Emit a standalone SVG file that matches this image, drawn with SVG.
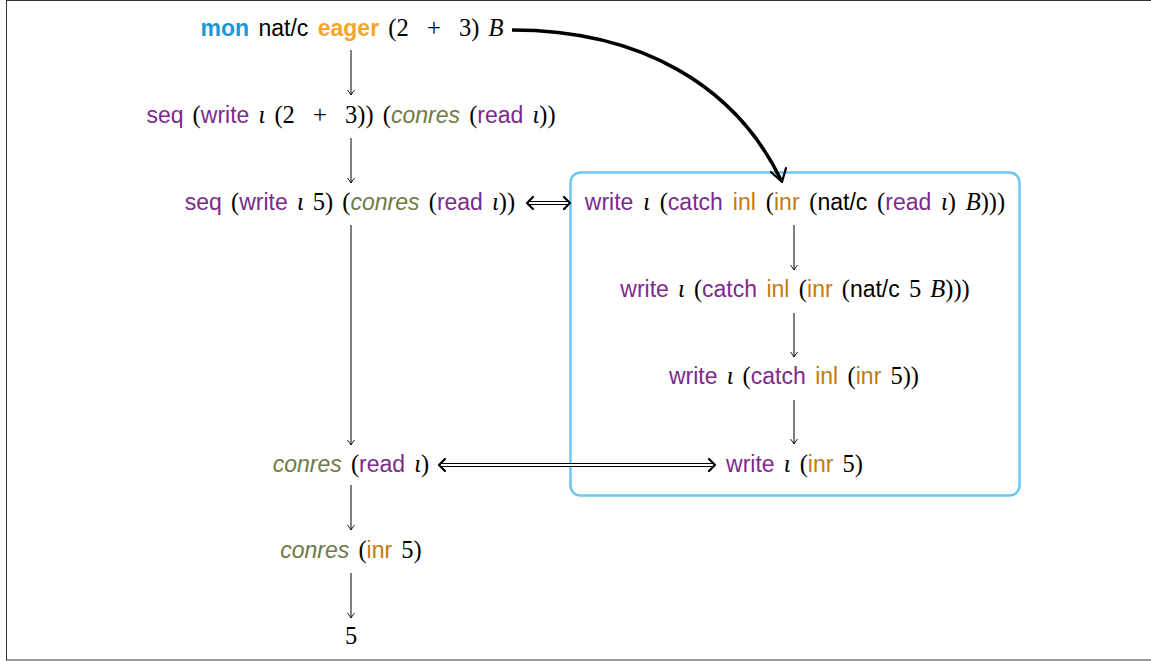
<svg xmlns="http://www.w3.org/2000/svg" width="1151" height="661" viewBox="0 0 1151 661">
  <style>
    text { font-size: 23px; white-space: pre; fill: #000; text-anchor: middle; word-spacing: 3px; }
    .sf { font-family: "Liberation Sans", "DejaVu Sans", sans-serif; }
    .rm { font-family: "Liberation Serif", "DejaVu Serif", serif; font-size: 24.5px; }
    .mi { font-family: "Liberation Serif", "DejaVu Serif", serif; font-style: italic; font-size: 24.5px; }
    .kw { font-family: "Liberation Sans", "DejaVu Sans", sans-serif; fill: #7D2A8C; }
    .inj { font-family: "Liberation Sans", "DejaVu Sans", sans-serif; fill: #C27C0E; }
    .cr { font-family: "Liberation Sans", "DejaVu Sans", sans-serif; font-style: italic; fill: #6E7B45; }
    .mon { font-family: "Liberation Sans", "DejaVu Sans", sans-serif; font-weight: bold; fill: #1A98D5; }
    .eager { font-family: "Liberation Sans", "DejaVu Sans", sans-serif; font-weight: bold; fill: #F5A52A; }
    .step { stroke: #000; stroke-width: 1; fill: none; marker-end: url(#tip); }
    .dbl-out { stroke: #000; stroke-width: 4.2; fill: none; }
    .dbl-in { stroke: #fff; stroke-width: 1.8; fill: none; }
    .chev { stroke: #000; stroke-width: 2.2; fill: none; stroke-linecap: round; stroke-linejoin: round; }
  </style>
  <defs>
    <marker id="tip" viewBox="-6 -4 8 8" refX="0" refY="0" markerWidth="8" markerHeight="8" markerUnits="userSpaceOnUse" orient="auto">
      <path d="M-5,-3.5 Q-1.5,-0.8 0,0 Q-1.5,0.8 -5,3.5" stroke="#000" stroke-width="0.9" fill="none"/>
    </marker>
  </defs>

  <rect x="6.5" y="0.5" width="1150" height="659.5" fill="#fff" stroke="#333" stroke-width="1"/>

  <!-- evaluation container -->
  <rect id="container" x="570.5" y="172.5" width="449" height="323" rx="10" fill="none" stroke="#6CC8F0" stroke-width="2.5"/>

  <g id="n-start">
    <text x="352" y="36"><tspan class="mon">mon</tspan><tspan class="sf"> nat/c </tspan><tspan class="eager">eager</tspan><tspan class="rm"> (2  +  3) </tspan><tspan class="mi">B</tspan></text>
  </g>
  <g id="n-seq1">
    <text x="351" y="123"><tspan class="kw">seq</tspan><tspan class="rm"> (</tspan><tspan class="kw">write</tspan><tspan class="mi"> ι </tspan><tspan class="rm">(2  +  3)) (</tspan><tspan class="cr">conres</tspan><tspan class="rm"> (</tspan><tspan class="kw">read</tspan><tspan class="mi"> ι</tspan><tspan class="rm">))</tspan></text>
  </g>
  <g id="n-seq2">
    <text x="350" y="210"><tspan class="kw">seq</tspan><tspan class="rm"> (</tspan><tspan class="kw">write</tspan><tspan class="mi"> ι </tspan><tspan class="rm">5) (</tspan><tspan class="cr">conres</tspan><tspan class="rm"> (</tspan><tspan class="kw">read</tspan><tspan class="mi"> ι</tspan><tspan class="rm">))</tspan></text>
  </g>
  <g id="n-conres-read">
    <text x="351" y="472"><tspan class="cr">conres</tspan><tspan class="rm"> (</tspan><tspan class="kw">read</tspan><tspan class="mi"> ι</tspan><tspan class="rm">)</tspan></text>
  </g>
  <g id="n-conres-inr">
    <text x="351" y="558"><tspan class="cr">conres</tspan><tspan class="rm"> (</tspan><tspan class="inj">inr</tspan><tspan class="rm"> 5)</tspan></text>
  </g>
  <g id="n-value">
    <text x="351" y="644"><tspan class="rm">5</tspan></text>
  </g>

  <g id="n-write1">
    <text x="795" y="210" style="word-spacing:3.6px"><tspan class="kw">write</tspan><tspan class="mi"> ι </tspan><tspan class="rm">(</tspan><tspan class="kw">catch</tspan><tspan class="inj"> inl </tspan><tspan class="rm">(</tspan><tspan class="inj">inr</tspan><tspan class="rm"> (</tspan><tspan class="sf">nat/c</tspan><tspan class="rm"> (</tspan><tspan class="kw">read</tspan><tspan class="mi"> ι</tspan><tspan class="rm">) </tspan><tspan class="mi">B</tspan><tspan class="rm">)))</tspan></text>
  </g>
  <g id="n-write2">
    <text x="795" y="297"><tspan class="kw">write</tspan><tspan class="mi"> ι </tspan><tspan class="rm">(</tspan><tspan class="kw">catch</tspan><tspan class="inj"> inl </tspan><tspan class="rm">(</tspan><tspan class="inj">inr</tspan><tspan class="rm"> (</tspan><tspan class="sf">nat/c</tspan><tspan class="rm"> 5 </tspan><tspan class="mi">B</tspan><tspan class="rm">)))</tspan></text>
  </g>
  <g id="n-write3">
    <text x="794" y="384"><tspan class="kw">write</tspan><tspan class="mi"> ι </tspan><tspan class="rm">(</tspan><tspan class="kw">catch</tspan><tspan class="inj"> inl </tspan><tspan class="rm">(</tspan><tspan class="inj">inr</tspan><tspan class="rm"> 5))</tspan></text>
  </g>
  <g id="n-write4">
    <text x="794.5" y="472"><tspan class="kw">write</tspan><tspan class="mi"> ι </tspan><tspan class="rm">(</tspan><tspan class="inj">inr</tspan><tspan class="rm"> 5)</tspan></text>
  </g>

  <g id="connectors">
    <!-- reduction steps -->
    <line class="step" x1="351" y1="50" x2="351" y2="95"/>
    <line class="step" x1="351" y1="138" x2="351" y2="183"/>
    <line class="step" x1="351" y1="225" x2="351" y2="445"/>
    <line class="step" x1="351" y1="485" x2="351" y2="530"/>
    <line class="step" x1="351" y1="573" x2="351" y2="618"/>
    <line class="step" x1="794" y1="225" x2="794" y2="270"/>
    <line class="step" x1="794" y1="313" x2="794" y2="357"/>
    <line class="step" x1="794" y1="400" x2="794" y2="444"/>

    <!-- equivalences -->
    <line class="dbl-out" x1="528" y1="203" x2="568" y2="203"/>
    <line class="dbl-in" x1="526" y1="203" x2="570" y2="203"/>
    <path class="chev" d="M533,197 L527,203 L533,209"/>
    <path class="chev" d="M564,197 L570,203 L564,209"/>

    <line class="dbl-out" x1="440" y1="465" x2="713" y2="465"/>
    <line class="dbl-in" x1="438" y1="465" x2="715" y2="465"/>
    <path class="chev" d="M445,459 L439,465 L445,471"/>
    <path class="chev" d="M709,459 L715,465 L709,471"/>

    <!-- embedding arrow -->
    <path d="M512,30 C640,30 735,85 781,180" stroke="#000" stroke-width="3.5" fill="none"/>
    <path class="chev" d="M771,172 L782,182 L786,168" stroke-width="3"/>
  </g>
</svg>
